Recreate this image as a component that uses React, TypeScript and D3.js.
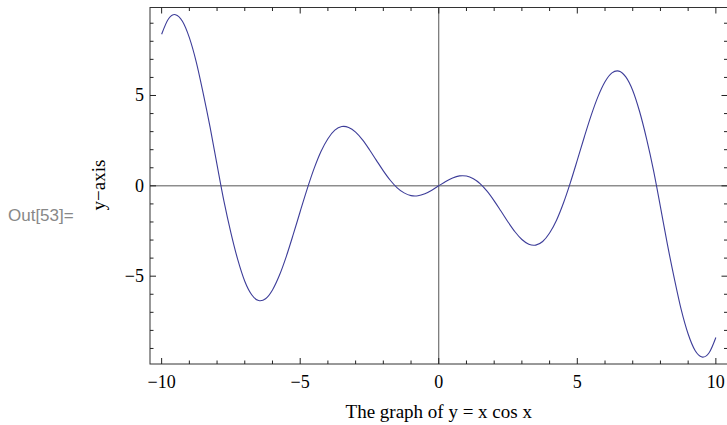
import { useEffect, useRef } from 'react';
import * as d3 from 'd3';

// samples of the plotted curve (quarter steps plus the turning points)
const xs = [
  -10, -9.75, -9.53, -9.5, -9.25, -9, -8.75, -8.5, -8.25, -8, -7.75, -7.5, -7.25, -7, -6.75, -6.5, -6.44, -6.25, -6, -5.75, -5.5, -5.25,
  -5, -4.75, -4.5, -4.25, -4, -3.75, -3.5, -3.43, -3.25, -3, -2.75, -2.5, -2.25, -2, -1.75, -1.5, -1.25, -1, -0.86, -0.75, -0.5, -0.25,
  0, 0.25, 0.5, 0.75, 0.86, 1, 1.25, 1.5, 1.75, 2, 2.25, 2.5, 2.75, 3, 3.25, 3.43, 3.5, 3.75, 4, 4.25, 4.5, 4.75,
  5, 5.25, 5.5, 5.75, 6, 6.25, 6.44, 6.5, 6.75, 7, 7.25, 7.5, 7.75, 8, 8.25, 8.5, 8.75, 9, 9.25, 9.5, 9.53, 9.75, 10,
];
const ys = [
  8.39, 9.25, 9.48, 9.47, 9.11, 8.2, 6.85, 5.12, 3.23, 1.16, -0.86, -2.6, -4.1, -5.28, -6.03, -6.35, -6.36, -6.25, -5.76, -4.95, -3.9, -2.69,
  -1.42, -0.18, 0.95, 1.9, 2.61, 3.08, 3.28, 3.29, 3.23, 2.97, 2.54, 2.0, 1.41, 0.83, 0.31, -0.11, -0.39, -0.54, -0.56, -0.55, -0.44, -0.24,
  0, 0.24, 0.44, 0.55, 0.56, 0.54, 0.39, 0.11, -0.31, -0.83, -1.41, -2.0, -2.54, -2.97, -3.23, -3.29, -3.28, -3.08, -2.61, -1.9, -0.95, 0.18,
  1.42, 2.69, 3.9, 4.95, 5.76, 6.25, 6.36, 6.35, 6.03, 5.28, 4.1, 2.6, 0.86, -1.16, -3.23, -5.12, -6.85, -8.2, -9.11, -9.47, -9.48, -9.25, -8.39,
];

const xMajor = [-10, -5, 0, 5, 10];
const xMinor = [-9, -8, -7, -6, -4, -3, -2, -1, 1, 2, 3, 4, 6, 7, 8, 9];
const yMajor = [-5, 0, 5];
const yMinor = [-9, -8, -7, -6, -4, -3, -2, -1, 1, 2, 3, 4, 6, 7, 8, 9];

const xTitle = 'The graph of y = x cos x';
const yTitle = 'y\u2212axis';
const cellLabel = 'Out[53]=';

const fmt = (v: number) => (v < 0 ? '\u2212' + Math.abs(v) : String(v));

export default function App() {
  const svgRef = useRef<SVGSVGElement | null>(null);

  useEffect(() => {
    if (!svgRef.current) return;
    const svg = d3.select(svgRef.current);
    svg.selectAll('*').remove();

    const left = 150, right = 727.5, top = 7.5, bottom = 364;

    const x = d3.scaleLinear().domain([-10.42, 10.42]).range([left, right]);
    const y = d3.scaleLinear().domain([-9.86, 9.87]).range([bottom, top]);

    const serif = '"Liberation Serif", "DejaVu Serif", serif';
    const majorLen = 6, minorLen = 3.5;

    // zero axes
    svg.append('line')
      .attr('x1', left).attr('x2', right)
      .attr('y1', y(0)).attr('y2', y(0))
      .attr('stroke', '#555').attr('stroke-width', 1);
    svg.append('line')
      .attr('x1', x(0)).attr('x2', x(0))
      .attr('y1', top).attr('y2', bottom)
      .attr('stroke', '#555').attr('stroke-width', 1);

    // curve
    const pts: [number, number][] = xs.map((v, i) => [v, ys[i]]);
    const line = d3.line<[number, number]>()
      .x(d => x(d[0]))
      .y(d => y(d[1]))
      .curve(d3.curveMonotoneX);
    svg.append('path')
      .attr('d', line(pts))
      .attr('fill', 'none')
      .attr('stroke', '#3d3d99')
      .attr('stroke-width', 1.1);

    // frame
    svg.append('rect')
      .attr('x', left).attr('y', top)
      .attr('width', right - left).attr('height', bottom - top)
      .attr('fill', 'none')
      .attr('stroke', '#333').attr('stroke-width', 1);

    const ticks = svg.append('g').attr('stroke', '#222').attr('stroke-width', 1);
    const xTick = (v: number, len: number) => {
      ticks.append('line').attr('x1', x(v)).attr('x2', x(v)).attr('y1', bottom).attr('y2', bottom - len);
      ticks.append('line').attr('x1', x(v)).attr('x2', x(v)).attr('y1', top).attr('y2', top + len);
    };
    const yTick = (v: number, len: number) => {
      ticks.append('line').attr('x1', left).attr('x2', left + len).attr('y1', y(v)).attr('y2', y(v));
      ticks.append('line').attr('x1', right).attr('x2', right - len).attr('y1', y(v)).attr('y2', y(v));
    };
    xMajor.forEach(v => xTick(v, majorLen));
    xMinor.forEach(v => xTick(v, minorLen));
    yMajor.forEach(v => yTick(v, majorLen));
    yMinor.forEach(v => yTick(v, minorLen));

    // tick labels
    svg.append('g').selectAll('text')
      .data(xMajor)
      .enter()
      .append('text')
      .attr('x', d => x(d))
      .attr('y', 388)
      .attr('text-anchor', 'middle')
      .style('font-family', serif)
      .style('font-size', '18px')
      .text(d => fmt(d));

    svg.append('g').selectAll('text')
      .data(yMajor)
      .enter()
      .append('text')
      .attr('x', 144)
      .attr('y', d => y(d) + 6)
      .attr('text-anchor', 'end')
      .style('font-family', serif)
      .style('font-size', '18px')
      .text(d => fmt(d));

    // axis titles
    svg.append('text')
      .attr('x', x(0))
      .attr('y', 418)
      .attr('text-anchor', 'middle')
      .style('font-family', serif)
      .style('font-size', '19px')
      .text(xTitle);

    svg.append('text')
      .attr('transform', 'translate(105,185) rotate(-90)')
      .attr('text-anchor', 'middle')
      .style('font-family', serif)
      .style('font-size', '19px')
      .text(yTitle);

    svg.append('text')
      .attr('x', 8)
      .attr('y', 221)
      .style('font-family', '"Liberation Sans", Arial, sans-serif')
      .style('font-size', '17px')
      .style('fill', '#888')
      .text(cellLabel);
  }, []);

  return (
    <svg
      ref={svgRef}
      width={727}
      height={425}
      style={{ position: 'absolute', left: 0, top: 0, background: '#fff' }}
    />
  );
}
